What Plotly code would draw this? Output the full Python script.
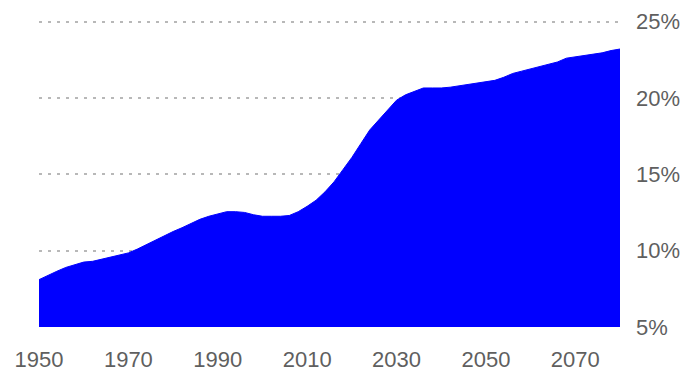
import plotly.graph_objects as go

# Share of population (%), by year
years = [1950, 1952, 1954, 1956, 1958, 1960, 1962, 1964, 1966, 1968,
         1970, 1972, 1974, 1976, 1978, 1980, 1982, 1984, 1986, 1988,
         1990, 1992, 1994, 1996, 1998, 2000, 2002, 2004, 2006, 2008,
         2010, 2012, 2014, 2016, 2018, 2020, 2022, 2024, 2026, 2028,
         2030, 2032, 2034, 2036, 2038, 2040, 2042, 2044, 2046, 2048,
         2050, 2052, 2054, 2056, 2058, 2060, 2062, 2064, 2066, 2068,
         2070, 2072, 2074, 2076, 2078, 2080]
share = [8.1, 8.4, 8.65, 8.9, 9.1, 9.25, 9.3, 9.45, 9.55, 9.7,
         9.85, 10.1, 10.4, 10.7, 11.0, 11.25, 11.5, 11.8, 12.05, 12.25,
         12.4, 12.55, 12.55, 12.5, 12.35, 12.25, 12.25, 12.25, 12.3, 12.55,
         12.9, 13.3, 13.85, 14.5, 15.3, 16.1, 17.0, 17.9, 18.55, 19.2,
         19.85, 20.2, 20.45, 20.65, 20.65, 20.65, 20.7, 20.8, 20.9, 21.0,
         21.05, 21.15, 21.35, 21.6, 21.75, 21.9, 22.05, 22.2, 22.35, 22.6,
         22.7, 22.75, 22.85, 22.95, 23.1, 23.2]

x_ticks = [1950, 1970, 1990, 2010, 2030, 2050, 2070]
y_ticks = [5, 10, 15, 20, 25]

fig = go.Figure(
    go.Scatter(
        x=years,
        y=share,
        mode="lines",
        line=dict(color="#0000FF", width=1),
        fill="tozeroy",
        fillcolor="#0000FF",
        hoverinfo="skip",
    )
)

tick_font = dict(family="Liberation Sans, Arial, sans-serif", size=22, color="#5f5f5f")

fig.update_layout(
    width=690,
    height=375,
    margin=dict(l=39, r=70, t=20, b=48),
    paper_bgcolor="white",
    plot_bgcolor="white",
    showlegend=False,
    xaxis=dict(
        range=[1950, 2080],
        tickvals=x_ticks,
        ticktext=[str(v) for v in x_ticks],
        showgrid=False,
        zeroline=False,
        showline=False,
        ticks="",
        tickfont=tick_font,
        ticklabelstandoff=17,
        automargin=False,
    ),
    yaxis=dict(
        range=[5, 25.1],
        side="right",
        tickvals=y_ticks,
        ticktext=[f"{v}%" for v in y_ticks],
        showgrid=True,
        gridcolor="#b8b8b8",
        gridwidth=2,
        griddash="3px,6px",
        zeroline=False,
        showline=False,
        ticks="",
        tickfont=tick_font,
        ticklabelstandoff=15,
        automargin=False,
    ),
)

fig.write_html("out.html")
